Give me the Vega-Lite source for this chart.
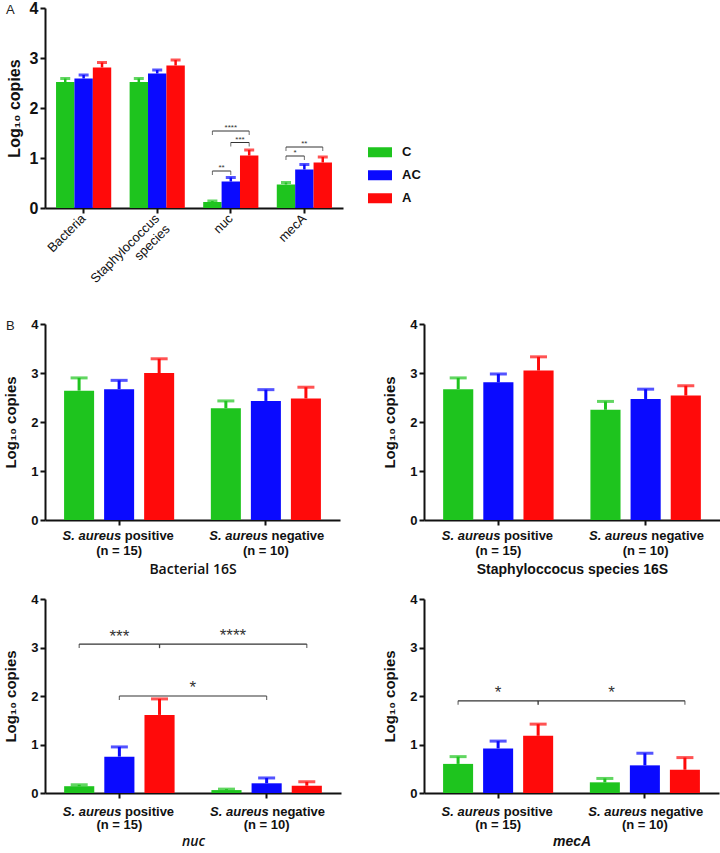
{
  "$schema": "https://vega.github.io/schema/vega-lite/v6.json",
  "padding": {"left": 3, "top": 0, "right": 2, "bottom": 0},
  "autosize": {"type": "pad"},
  "background": "white",
  "bounds": "flush",
  "align": "each",
  "columns": 2,
  "spacing": {"row": 79, "column": 81},
  "resolve": {"scale": {"xOffset": "independent"}, "legend": {"color": "independent"}},
  "config": {
    "view": {"stroke": null},
    "font": "Liberation Sans",
    "axis": {"grid": false, "domainColor": "#111", "domainWidth": 2, "tickColor": "#111", "tickWidth": 2, "tickSize": 5, "labelColor": "#111", "titleColor": "#111", "labelPadding": 2}
  },
  "datasets": {
    "A": [
      {"gene": "Bacteria", "grp": "C", "mean": 2.52, "upper": 2.59},
      {"gene": "Bacteria", "grp": "AC", "mean": 2.59, "upper": 2.66},
      {"gene": "Bacteria", "grp": "A", "mean": 2.81, "upper": 2.91},
      {"gene": "Staphylococcus species", "grp": "C", "mean": 2.52, "upper": 2.59},
      {"gene": "Staphylococcus species", "grp": "AC", "mean": 2.69, "upper": 2.76},
      {"gene": "Staphylococcus species", "grp": "A", "mean": 2.85, "upper": 2.96},
      {"gene": "nuc", "grp": "C", "mean": 0.12, "upper": 0.14},
      {"gene": "nuc", "grp": "AC", "mean": 0.53, "upper": 0.61},
      {"gene": "nuc", "grp": "A", "mean": 1.05, "upper": 1.16},
      {"gene": "mecA", "grp": "C", "mean": 0.47, "upper": 0.51},
      {"gene": "mecA", "grp": "AC", "mean": 0.77, "upper": 0.87},
      {"gene": "mecA", "grp": "A", "mean": 0.91, "upper": 1.02}
    ],
    "Aends": [
      {"id": "a1", "gene": "nuc", "grp": "C", "y": 0.74},
      {"id": "a1", "gene": "nuc", "grp": "AC", "y": 0.74},
      {"id": "a2", "gene": "nuc", "grp": "AC", "y": 1.31},
      {"id": "a2", "gene": "nuc", "grp": "A", "y": 1.31},
      {"id": "a3", "gene": "nuc", "grp": "C", "y": 1.54},
      {"id": "a3", "gene": "nuc", "grp": "A", "y": 1.54},
      {"id": "a4", "gene": "mecA", "grp": "C", "y": 1.04},
      {"id": "a4", "gene": "mecA", "grp": "AC", "y": 1.04},
      {"id": "a5", "gene": "mecA", "grp": "C", "y": 1.22},
      {"id": "a5", "gene": "mecA", "grp": "A", "y": 1.22}
    ],
    "Alabels": [
      {"id": "a1", "gene": "nuc", "grp": "C", "to": "AC", "y": 0.74, "label": "**"},
      {"id": "a2", "gene": "nuc", "grp": "AC", "to": "A", "y": 1.31, "label": "***"},
      {"id": "a3", "gene": "nuc", "grp": "C", "to": "A", "y": 1.54, "label": "****"},
      {"id": "a4", "gene": "mecA", "grp": "C", "to": "AC", "y": 1.04, "label": "*"},
      {"id": "a5", "gene": "mecA", "grp": "C", "to": "A", "y": 1.22, "label": "**"}
    ],
    "B": [
      {"panel": "16S", "status": "positive", "grp": "C", "mean": 2.64, "upper": 2.9},
      {"panel": "16S", "status": "positive", "grp": "AC", "mean": 2.67, "upper": 2.85},
      {"panel": "16S", "status": "positive", "grp": "A", "mean": 3.0, "upper": 3.29},
      {"panel": "16S", "status": "negative", "grp": "C", "mean": 2.28, "upper": 2.43},
      {"panel": "16S", "status": "negative", "grp": "AC", "mean": 2.43, "upper": 2.66},
      {"panel": "16S", "status": "negative", "grp": "A", "mean": 2.48, "upper": 2.71},
      {"panel": "Staph", "status": "positive", "grp": "C", "mean": 2.67, "upper": 2.9},
      {"panel": "Staph", "status": "positive", "grp": "AC", "mean": 2.81, "upper": 2.98},
      {"panel": "Staph", "status": "positive", "grp": "A", "mean": 3.05, "upper": 3.33},
      {"panel": "Staph", "status": "negative", "grp": "C", "mean": 2.25, "upper": 2.42},
      {"panel": "Staph", "status": "negative", "grp": "AC", "mean": 2.47, "upper": 2.67},
      {"panel": "Staph", "status": "negative", "grp": "A", "mean": 2.54, "upper": 2.74},
      {"panel": "nuc", "status": "positive", "grp": "C", "mean": 0.14, "upper": 0.17},
      {"panel": "nuc", "status": "positive", "grp": "AC", "mean": 0.75, "upper": 0.95},
      {"panel": "nuc", "status": "positive", "grp": "A", "mean": 1.61, "upper": 1.94},
      {"panel": "nuc", "status": "negative", "grp": "C", "mean": 0.06, "upper": 0.08},
      {"panel": "nuc", "status": "negative", "grp": "AC", "mean": 0.2, "upper": 0.31},
      {"panel": "nuc", "status": "negative", "grp": "A", "mean": 0.15, "upper": 0.23},
      {"panel": "mecA", "status": "positive", "grp": "C", "mean": 0.6, "upper": 0.75},
      {"panel": "mecA", "status": "positive", "grp": "AC", "mean": 0.92, "upper": 1.07},
      {"panel": "mecA", "status": "positive", "grp": "A", "mean": 1.18, "upper": 1.42},
      {"panel": "mecA", "status": "negative", "grp": "C", "mean": 0.22, "upper": 0.3},
      {"panel": "mecA", "status": "negative", "grp": "AC", "mean": 0.57, "upper": 0.82},
      {"panel": "mecA", "status": "negative", "grp": "A", "mean": 0.48, "upper": 0.73}
    ],
    "Bcats": [
      {"status": "positive", "species": "S. aureus", "result": "positive"},
      {"status": "negative", "species": "S. aureus", "result": "negative"}
    ],
    "Bends": [
      {"panel": "nuc", "id": "b1", "status": "positive", "grp": "C", "y": 3.07},
      {"panel": "nuc", "id": "b1", "status": "positive", "grp": "A", "y": 3.07},
      {"panel": "nuc", "id": "b2", "status": "positive", "grp": "A", "y": 3.07},
      {"panel": "nuc", "id": "b2", "status": "negative", "grp": "A", "y": 3.07},
      {"panel": "nuc", "id": "b3", "status": "positive", "grp": "AC", "y": 2.0},
      {"panel": "nuc", "id": "b3", "status": "negative", "grp": "AC", "y": 2.0},
      {"panel": "mecA", "id": "m1", "status": "positive", "grp": "C", "y": 1.9},
      {"panel": "mecA", "id": "m1", "status": "positive", "grp": "A", "y": 1.9},
      {"panel": "mecA", "id": "m2", "status": "positive", "grp": "A", "y": 1.9},
      {"panel": "mecA", "id": "m2", "status": "negative", "grp": "A", "y": 1.9}
    ],
    "Blabels": [
      {"panel": "nuc", "id": "b1", "status": "positive", "grp": "C", "to_status": "positive", "to": "A", "y": 3.07, "label": "***"},
      {"panel": "nuc", "id": "b2", "status": "positive", "grp": "A", "to_status": "negative", "to": "A", "y": 3.07, "label": "****"},
      {"panel": "nuc", "id": "b3", "status": "positive", "grp": "AC", "to_status": "negative", "to": "AC", "y": 2.0, "label": "*"},
      {"panel": "mecA", "id": "m1", "status": "positive", "grp": "C", "to_status": "positive", "to": "A", "y": 1.9, "label": "*"},
      {"panel": "mecA", "id": "m2", "status": "positive", "grp": "A", "to_status": "negative", "to": "A", "y": 1.9, "label": "*"}
    ]
  },
  "concat": [
    {
      "width": 298,
      "height": 200,
      "title": {"text": "A", "anchor": "start", "frame": "group", "dx": -39, "dy": 23, "offset": 0, "baseline": "middle", "fontSize": 13, "fontWeight": "normal", "color": "#222"},
      "encoding": {
        "x": {"field": "gene", "type": "nominal", "sort": ["Bacteria", "Staphylococcus species", "nuc", "mecA"], "scale": {"domain": ["Bacteria", "Staphylococcus species", "nuc", "mecA"], "paddingInner": 0.25, "paddingOuter": 0.15},
              "axis": {"title": null, "labelAngle": -45, "labelFontSize": 13, "labelAlign": "right", "labelBaseline": "middle", "labelExpr": "datum.value == 'Staphylococcus species' ? ['Staphylococcus', 'species'] : datum.value", "labelLineHeight": 15, "labelPadding": 3}},
        "xOffset": {"field": "grp", "type": "nominal", "sort": ["C", "AC", "A"], "scale": {"domain": ["C", "AC", "A"], "paddingInner": 0, "paddingOuter": 0}}
      },
      "layer": [
        {
          "data": {"name": "A"},
          "mark": {"type": "bar"},
          "encoding": {
            "y": {"field": "mean", "type": "quantitative", "title": "Log₁₀ copies", "scale": {"domain": [0, 4], "nice": false},
                  "axis": {"values": [0, 1, 2, 3, 4], "labelFontSize": 16, "labelFontWeight": "bold", "titleFontSize": 16, "titleFontWeight": "bold", "titlePadding": 7}},
            "color": {"field": "grp", "type": "nominal", "scale": {"domain": ["C", "AC", "A"], "range": ["#1ec41e", "#0a0aff", "#ff0a0a"]},
                      "legend": {"orient": "none", "legendX": 323, "legendY": 133, "title": null, "symbolType": "M-1,-0.42H1V0.42H-1Z", "symbolSize": 576, "symbolStrokeWidth": 0, "labelFontSize": 13, "labelFontWeight": "bold", "labelColor": "#111", "labelOffset": 10, "clipHeight": 22.5, "rowPadding": 0, "padding": 0}}
          }
        },
        {
          "data": {"name": "A"},
          "mark": {"type": "rule", "strokeWidth": 2.5},
          "encoding": {
            "y": {"field": "mean", "type": "quantitative", "title": "Log₁₀ copies", "scale": {"domain": [0, 4], "nice": false}},
            "y2": {"field": "upper"},
            "color": {"field": "grp", "type": "nominal", "legend": null}
          }
        },
        {
          "data": {"name": "A"},
          "mark": {"type": "tick", "size": 10, "thickness": 3},
          "encoding": {
            "y": {"field": "upper", "type": "quantitative", "title": "Log₁₀ copies", "scale": {"domain": [0, 4], "nice": false}},
            "color": {"field": "grp", "type": "nominal", "legend": null}
          }
        },
        {
          "data": {"name": "Aends"},
          "mark": {"type": "line", "color": "#333", "strokeWidth": 1},
          "encoding": {
            "y": {"field": "y", "type": "quantitative", "title": "Log₁₀ copies", "scale": {"domain": [0, 4], "nice": false}},
            "detail": {"field": "id"}
          }
        },
        {
          "data": {"name": "Aends"},
          "mark": {"type": "tick", "orient": "vertical", "color": "#333", "size": 4, "thickness": 1, "yOffset": 2},
          "encoding": {
            "y": {"field": "y", "type": "quantitative", "title": "Log₁₀ copies", "scale": {"domain": [0, 4], "nice": false}}
          }
        },
        {
          "data": {"name": "Alabels"},
          "transform": [{"filter": "datum.grp == 'C' && datum.to == 'A'"}],
          "mark": {"type": "text", "color": "#333", "fontSize": 8, "dy": -1, "baseline": "alphabetic"},
          "encoding": {
            "y": {"field": "y", "type": "quantitative", "title": "Log₁₀ copies", "scale": {"domain": [0, 4], "nice": false}},
            "xOffset": {"datum": "AC"},
            "text": {"field": "label"}
          }
        },
        {
          "data": {"name": "Alabels"},
          "transform": [{"filter": "!(datum.grp == 'C' && datum.to == 'A')"}],
          "mark": {"type": "text", "color": "#333", "fontSize": 8, "dy": -1, "dx": 9.2, "baseline": "alphabetic"},
          "encoding": {
            "y": {"field": "y", "type": "quantitative", "title": "Log₁₀ copies", "scale": {"domain": [0, 4], "nice": false}},
            "text": {"field": "label"}
          }
        }
      ]
    },
    {
      "width": 10,
      "height": 237,
      "data": {"values": [{"blank": 1}]},
      "mark": {"type": "point", "opacity": 0},
      "encoding": {}
    },
    {
      "width": 295,
      "height": 196,
      "title": {"text": "B", "anchor": "start", "frame": "group", "dx": -39, "dy": 21, "offset": 0, "baseline": "middle", "fontSize": 13, "fontWeight": "normal", "color": "#222"},
      "encoding": {
        "x": {"field": "status", "type": "nominal", "sort": ["positive", "negative"], "scale": {"domain": ["positive", "negative"], "paddingInner": 0.25, "paddingOuter": 0.13},
              "axis": {"title": "Bacterial 16S", "labelAngle": 0, "labelFontSize": 13, "labelFontWeight": "bold", "labelLineHeight": 16, "labelPadding": 3, "labelExpr": "datum.value == 'positive' ? ['', '(n = 15)'] : ['', '(n = 10)']", "titleFont": "Open Sans", "titleFontSize": 14, "titleFontWeight": 600, "titlePadding": 5}},
        "xOffset": {"field": "grp", "type": "nominal", "sort": ["C", "AC", "A"], "scale": {"domain": ["C", "AC", "A"], "paddingInner": 0.25, "paddingOuter": 0}}
      },
      "layer": [
        {"data": {"name": "B"}, "transform": [{"filter": "datum.panel == '16S'"}],
         "mark": {"type": "bar"},
         "encoding": {"y": {"field": "mean", "type": "quantitative", "title": "Log₁₀ copies", "scale": {"domain": [0, 4], "nice": false},
           "axis": {"values": [0, 1, 2, 3, 4], "labelFontSize": 13, "labelFontWeight": "bold", "titleFontSize": 15, "titleFontWeight": "bold", "titlePadding": 12}},
           "color": {"field": "grp", "type": "nominal", "legend": null}}},
        {"data": {"name": "B"}, "transform": [{"filter": "datum.panel == '16S'"}],
         "mark": {"type": "rule", "strokeWidth": 3},
         "encoding": {"y": {"field": "mean", "type": "quantitative", "title": "Log₁₀ copies", "scale": {"domain": [0, 4], "nice": false}}, "y2": {"field": "upper"}, "color": {"field": "grp", "type": "nominal", "legend": null}}},
        {"data": {"name": "B"}, "transform": [{"filter": "datum.panel == '16S'"}],
         "mark": {"type": "tick", "size": 17, "thickness": 3},
         "encoding": {"y": {"field": "upper", "type": "quantitative", "title": "Log₁₀ copies", "scale": {"domain": [0, 4], "nice": false}}, "color": {"field": "grp", "type": "nominal", "legend": null}}},
        {"data": {"name": "Bcats"},
         "mark": {"type": "text", "font": "Liberation Sans", "fontSize": 13, "fontWeight": "bold", "fontStyle": "italic", "align": "right", "baseline": "middle", "dx": 2, "color": "#111"},
         "encoding": {"xOffset": {"datum": "AC"}, "y": {"datum": -0.327, "type": "quantitative", "title": "Log₁₀ copies", "scale": {"domain": [0, 4], "nice": false}}, "text": {"field": "species"}}},
        {"data": {"name": "Bcats"},
         "mark": {"type": "text", "font": "Liberation Sans", "fontSize": 13, "fontWeight": "bold", "align": "left", "baseline": "middle", "dx": 5.6, "color": "#111"},
         "encoding": {"xOffset": {"datum": "AC"}, "y": {"datum": -0.327, "type": "quantitative", "title": "Log₁₀ copies", "scale": {"domain": [0, 4], "nice": false}}, "text": {"field": "result"}}}
      ]
    },
    {
      "width": 296,
      "height": 196,
      "encoding": {
        "x": {"field": "status", "type": "nominal", "sort": ["positive", "negative"], "scale": {"domain": ["positive", "negative"], "paddingInner": 0.25, "paddingOuter": 0.13},
              "axis": {"title": "Staphyloccocus species 16S", "labelAngle": 0, "labelFontSize": 13, "labelFontWeight": "bold", "labelLineHeight": 16, "labelPadding": 3, "labelExpr": "datum.value == 'positive' ? ['', '(n = 15)'] : ['', '(n = 10)']", "titleFontSize": 14, "titleFontWeight": "bold", "titlePadding": 5}},
        "xOffset": {"field": "grp", "type": "nominal", "sort": ["C", "AC", "A"], "scale": {"domain": ["C", "AC", "A"], "paddingInner": 0.25, "paddingOuter": 0}}
      },
      "layer": [
        {"data": {"name": "B"}, "transform": [{"filter": "datum.panel == 'Staph'"}],
         "mark": {"type": "bar"},
         "encoding": {"y": {"field": "mean", "type": "quantitative", "title": "Log₁₀ copies", "scale": {"domain": [0, 4], "nice": false},
           "axis": {"values": [0, 1, 2, 3, 4], "labelFontSize": 13, "labelFontWeight": "bold", "titleFontSize": 15, "titleFontWeight": "bold", "titlePadding": 12}},
           "color": {"field": "grp", "type": "nominal", "legend": null}}},
        {"data": {"name": "B"}, "transform": [{"filter": "datum.panel == 'Staph'"}],
         "mark": {"type": "rule", "strokeWidth": 3},
         "encoding": {"y": {"field": "mean", "type": "quantitative", "title": "Log₁₀ copies", "scale": {"domain": [0, 4], "nice": false}}, "y2": {"field": "upper"}, "color": {"field": "grp", "type": "nominal", "legend": null}}},
        {"data": {"name": "B"}, "transform": [{"filter": "datum.panel == 'Staph'"}],
         "mark": {"type": "tick", "size": 17, "thickness": 3},
         "encoding": {"y": {"field": "upper", "type": "quantitative", "title": "Log₁₀ copies", "scale": {"domain": [0, 4], "nice": false}}, "color": {"field": "grp", "type": "nominal", "legend": null}}},
        {"data": {"name": "Bcats"},
         "mark": {"type": "text", "font": "Liberation Sans", "fontSize": 13, "fontWeight": "bold", "fontStyle": "italic", "align": "right", "baseline": "middle", "dx": 2, "color": "#111"},
         "encoding": {"xOffset": {"datum": "AC"}, "y": {"datum": -0.327, "type": "quantitative", "title": "Log₁₀ copies", "scale": {"domain": [0, 4], "nice": false}}, "text": {"field": "species"}}},
        {"data": {"name": "Bcats"},
         "mark": {"type": "text", "font": "Liberation Sans", "fontSize": 13, "fontWeight": "bold", "align": "left", "baseline": "middle", "dx": 5.6, "color": "#111"},
         "encoding": {"xOffset": {"datum": "AC"}, "y": {"datum": -0.327, "type": "quantitative", "title": "Log₁₀ copies", "scale": {"domain": [0, 4], "nice": false}}, "text": {"field": "result"}}}
      ]
    },
    {
      "width": 296,
      "height": 194,
      "encoding": {
        "x": {"field": "status", "type": "nominal", "sort": ["positive", "negative"], "scale": {"domain": ["positive", "negative"], "paddingInner": 0.25, "paddingOuter": 0.13},
              "axis": {"title": "nuc", "labelAngle": 0, "labelFontSize": 13, "labelFontWeight": "bold", "labelLineHeight": 15, "labelPadding": 5, "labelExpr": "datum.value == 'positive' ? ['', '(n = 15)'] : ['', '(n = 10)']", "titleFont": "Open Sans", "titleFontSize": 14, "titleFontWeight": 600, "titleFontStyle": "italic", "titlePadding": 3}},
        "xOffset": {"field": "grp", "type": "nominal", "sort": ["C", "AC", "A"], "scale": {"domain": ["C", "AC", "A"], "paddingInner": 0.25, "paddingOuter": 0}}
      },
      "layer": [
        {"data": {"name": "B"}, "transform": [{"filter": "datum.panel == 'nuc'"}],
         "mark": {"type": "bar"},
         "encoding": {"y": {"field": "mean", "type": "quantitative", "title": "Log₁₀ copies", "scale": {"domain": [0, 4], "nice": false},
           "axis": {"values": [0, 1, 2, 3, 4], "labelFontSize": 13, "labelFontWeight": "bold", "titleFontSize": 15, "titleFontWeight": "bold", "titlePadding": 12}},
           "color": {"field": "grp", "type": "nominal", "legend": null}}},
        {"data": {"name": "B"}, "transform": [{"filter": "datum.panel == 'nuc'"}],
         "mark": {"type": "rule", "strokeWidth": 3},
         "encoding": {"y": {"field": "mean", "type": "quantitative", "title": "Log₁₀ copies", "scale": {"domain": [0, 4], "nice": false}}, "y2": {"field": "upper"}, "color": {"field": "grp", "type": "nominal", "legend": null}}},
        {"data": {"name": "B"}, "transform": [{"filter": "datum.panel == 'nuc'"}],
         "mark": {"type": "tick", "size": 17, "thickness": 3},
         "encoding": {"y": {"field": "upper", "type": "quantitative", "title": "Log₁₀ copies", "scale": {"domain": [0, 4], "nice": false}}, "color": {"field": "grp", "type": "nominal", "legend": null}}},
        {"data": {"name": "Bends"}, "transform": [{"filter": "datum.panel == 'nuc'"}],
         "mark": {"type": "line", "color": "#333", "strokeWidth": 1.2},
         "encoding": {"y": {"field": "y", "type": "quantitative", "title": "Log₁₀ copies", "scale": {"domain": [0, 4], "nice": false}}, "detail": {"field": "id"}}},
        {"data": {"name": "Bends"}, "transform": [{"filter": "datum.panel == 'nuc'"}],
         "mark": {"type": "tick", "orient": "vertical", "color": "#333", "size": 4, "thickness": 1.2, "yOffset": 2},
         "encoding": {"y": {"field": "y", "type": "quantitative", "title": "Log₁₀ copies", "scale": {"domain": [0, 4], "nice": false}}}},
        {"data": {"name": "Blabels"}, "transform": [{"filter": "datum.panel == 'nuc' && datum.to_status == datum.status"}],
         "mark": {"type": "text", "color": "#333", "fontSize": 17, "dy": -2, "baseline": "alphabetic"},
         "encoding": {"y": {"field": "y", "type": "quantitative", "title": "Log₁₀ copies", "scale": {"domain": [0, 4], "nice": false}}, "xOffset": {"datum": "AC"}, "text": {"field": "label"}}},
        {"data": {"name": "Blabels"}, "transform": [{"filter": "datum.panel == 'nuc' && datum.to_status != datum.status"}],
         "mark": {"type": "text", "color": "#333", "fontSize": 17, "dy": -3, "dx": 73.4, "baseline": "alphabetic"},
         "encoding": {"y": {"field": "y", "type": "quantitative", "title": "Log₁₀ copies", "scale": {"domain": [0, 4], "nice": false}}, "text": {"field": "label"}}},
        {"data": {"name": "Bcats"},
         "mark": {"type": "text", "font": "Liberation Sans", "fontSize": 13, "fontWeight": "bold", "fontStyle": "italic", "align": "right", "baseline": "middle", "dx": 2, "color": "#111"},
         "encoding": {"xOffset": {"datum": "AC"}, "y": {"datum": -0.39, "type": "quantitative", "title": "Log₁₀ copies", "scale": {"domain": [0, 4], "nice": false}}, "text": {"field": "species"}}},
        {"data": {"name": "Bcats"},
         "mark": {"type": "text", "font": "Liberation Sans", "fontSize": 13, "fontWeight": "bold", "align": "left", "baseline": "middle", "dx": 5.6, "color": "#111"},
         "encoding": {"xOffset": {"datum": "AC"}, "y": {"datum": -0.39, "type": "quantitative", "title": "Log₁₀ copies", "scale": {"domain": [0, 4], "nice": false}}, "text": {"field": "result"}}}
      ]
    },
    {
      "width": 295,
      "height": 194,
      "encoding": {
        "x": {"field": "status", "type": "nominal", "sort": ["positive", "negative"], "scale": {"domain": ["positive", "negative"], "paddingInner": 0.25, "paddingOuter": 0.13},
              "axis": {"title": "mecA", "labelAngle": 0, "labelFontSize": 13, "labelFontWeight": "bold", "labelLineHeight": 15, "labelPadding": 5, "labelExpr": "datum.value == 'positive' ? ['', '(n = 15)'] : ['', '(n = 10)']", "titleFontSize": 14, "titleFontWeight": "bold", "titleFontStyle": "italic", "titlePadding": 3}},
        "xOffset": {"field": "grp", "type": "nominal", "sort": ["C", "AC", "A"], "scale": {"domain": ["C", "AC", "A"], "paddingInner": 0.25, "paddingOuter": 0}}
      },
      "layer": [
        {"data": {"name": "B"}, "transform": [{"filter": "datum.panel == 'mecA'"}],
         "mark": {"type": "bar"},
         "encoding": {"y": {"field": "mean", "type": "quantitative", "title": "Log₁₀ copies", "scale": {"domain": [0, 4], "nice": false},
           "axis": {"values": [0, 1, 2, 3, 4], "labelFontSize": 13, "labelFontWeight": "bold", "titleFontSize": 15, "titleFontWeight": "bold", "titlePadding": 12}},
           "color": {"field": "grp", "type": "nominal", "legend": null}}},
        {"data": {"name": "B"}, "transform": [{"filter": "datum.panel == 'mecA'"}],
         "mark": {"type": "rule", "strokeWidth": 3},
         "encoding": {"y": {"field": "mean", "type": "quantitative", "title": "Log₁₀ copies", "scale": {"domain": [0, 4], "nice": false}}, "y2": {"field": "upper"}, "color": {"field": "grp", "type": "nominal", "legend": null}}},
        {"data": {"name": "B"}, "transform": [{"filter": "datum.panel == 'mecA'"}],
         "mark": {"type": "tick", "size": 17, "thickness": 3},
         "encoding": {"y": {"field": "upper", "type": "quantitative", "title": "Log₁₀ copies", "scale": {"domain": [0, 4], "nice": false}}, "color": {"field": "grp", "type": "nominal", "legend": null}}},
        {"data": {"name": "Bends"}, "transform": [{"filter": "datum.panel == 'mecA'"}],
         "mark": {"type": "line", "color": "#333", "strokeWidth": 1.2},
         "encoding": {"y": {"field": "y", "type": "quantitative", "title": "Log₁₀ copies", "scale": {"domain": [0, 4], "nice": false}}, "detail": {"field": "id"}}},
        {"data": {"name": "Bends"}, "transform": [{"filter": "datum.panel == 'mecA'"}],
         "mark": {"type": "tick", "orient": "vertical", "color": "#333", "size": 4, "thickness": 1.2, "yOffset": 2},
         "encoding": {"y": {"field": "y", "type": "quantitative", "title": "Log₁₀ copies", "scale": {"domain": [0, 4], "nice": false}}}},
        {"data": {"name": "Blabels"}, "transform": [{"filter": "datum.panel == 'mecA' && datum.to_status == datum.status"}],
         "mark": {"type": "text", "color": "#333", "fontSize": 17, "dy": -3, "baseline": "alphabetic"},
         "encoding": {"y": {"field": "y", "type": "quantitative", "title": "Log₁₀ copies", "scale": {"domain": [0, 4], "nice": false}}, "xOffset": {"datum": "AC"}, "text": {"field": "label"}}},
        {"data": {"name": "Blabels"}, "transform": [{"filter": "datum.panel == 'mecA' && datum.to_status != datum.status"}],
         "mark": {"type": "text", "color": "#333", "fontSize": 17, "dy": -3, "dx": 73.4, "baseline": "alphabetic"},
         "encoding": {"y": {"field": "y", "type": "quantitative", "title": "Log₁₀ copies", "scale": {"domain": [0, 4], "nice": false}}, "text": {"field": "label"}}},
        {"data": {"name": "Bcats"},
         "mark": {"type": "text", "font": "Liberation Sans", "fontSize": 13, "fontWeight": "bold", "fontStyle": "italic", "align": "right", "baseline": "middle", "dx": 2, "color": "#111"},
         "encoding": {"xOffset": {"datum": "AC"}, "y": {"datum": -0.39, "type": "quantitative", "title": "Log₁₀ copies", "scale": {"domain": [0, 4], "nice": false}}, "text": {"field": "species"}}},
        {"data": {"name": "Bcats"},
         "mark": {"type": "text", "font": "Liberation Sans", "fontSize": 13, "fontWeight": "bold", "align": "left", "baseline": "middle", "dx": 5.6, "color": "#111"},
         "encoding": {"xOffset": {"datum": "AC"}, "y": {"datum": -0.39, "type": "quantitative", "title": "Log₁₀ copies", "scale": {"domain": [0, 4], "nice": false}}, "text": {"field": "result"}}}
      ]
    }
  ]
}
